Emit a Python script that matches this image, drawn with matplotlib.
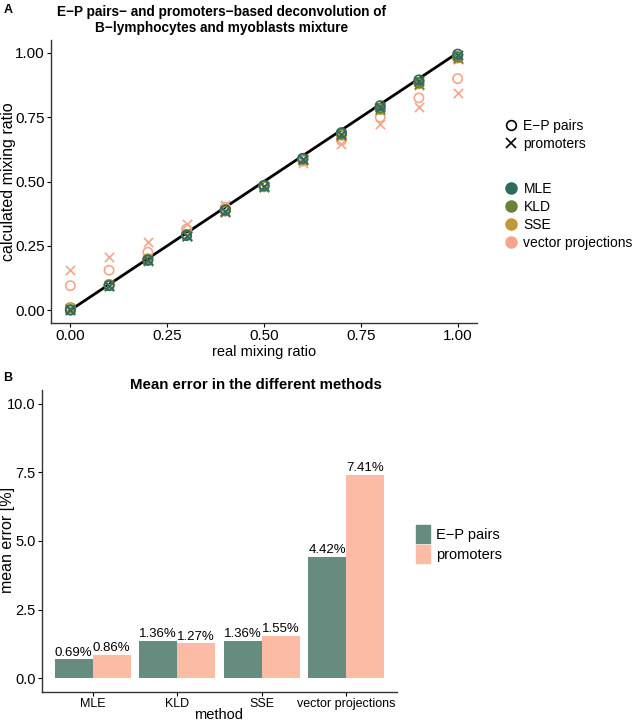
import matplotlib.pyplot as plt
from matplotlib.lines import Line2D
from matplotlib.patches import Patch
import numpy as np

plt.rcParams['font.family'] = ['Liberation Sans', 'DejaVu Sans']

# panel A data
real_ratio = [0.0, 0.1, 0.2, 0.3, 0.4, 0.5, 0.6, 0.7, 0.8, 0.9, 1.0]
methods = ['MLE', 'KLD', 'SSE', 'vector projections']
method_colors = ['#2e6b5e', '#6b8038', '#c4973c', '#f4a68c']

ep_mle = [0.000, 0.095, 0.195, 0.290, 0.390, 0.485, 0.590, 0.690, 0.795, 0.895, 0.995]
ep_kld = [0.002, 0.097, 0.193, 0.292, 0.388, 0.483, 0.588, 0.685, 0.785, 0.885, 0.985]
ep_sse = [0.010, 0.100, 0.200, 0.295, 0.385, 0.480, 0.585, 0.680, 0.780, 0.880, 0.980]
ep_vec = [0.095, 0.155, 0.225, 0.315, 0.400, 0.480, 0.580, 0.660, 0.750, 0.825, 0.900]

pr_mle = [0.000, 0.093, 0.193, 0.290, 0.385, 0.482, 0.588, 0.685, 0.790, 0.890, 0.990]
pr_kld = [0.003, 0.095, 0.190, 0.288, 0.383, 0.480, 0.585, 0.680, 0.780, 0.880, 0.980]
pr_sse = [0.008, 0.098, 0.195, 0.292, 0.380, 0.478, 0.582, 0.678, 0.778, 0.875, 0.978]
pr_vec = [0.155, 0.205, 0.265, 0.335, 0.410, 0.480, 0.570, 0.645, 0.725, 0.790, 0.845]

# panel B data
err_ep = [0.69, 1.36, 1.36, 4.42]
err_pr = [0.86, 1.27, 1.55, 7.41]
bar_colors = ['#668c80', '#fbbba5']

fig = plt.figure(figsize=(6.33, 7.24), dpi=100)

# ---------- panel A ----------
axA = fig.add_axes([51/633, 1-323/724, 426/633, 283/724])
axA.plot(real_ratio, real_ratio, color='black', lw=2, zorder=1)
ep_series = [ep_mle, ep_kld, ep_sse, ep_vec]
pr_series = [pr_mle, pr_kld, pr_sse, pr_vec]
for i in [3, 2, 1, 0]:
    axA.scatter(real_ratio, ep_series[i], marker='o', facecolors='none',
                edgecolors=method_colors[i], s=45, linewidths=1.2, zorder=2)
    axA.scatter(real_ratio, pr_series[i], marker='x', color=method_colors[i],
                s=45, linewidths=1.2, zorder=2)

axA.set_xlim(-0.05, 1.05)
axA.set_ylim(-0.05, 1.05)
ticks = [0, 0.25, 0.5, 0.75, 1.0]
axA.set_xticks(ticks)
axA.set_yticks(ticks)
axA.set_xticklabels(['0.00', '0.25', '0.50', '0.75', '1.00'])
axA.set_yticklabels(['0.00', '0.25', '0.50', '0.75', '1.00'])
axA.set_xlabel('real mixing ratio', fontsize=10.5)
axA.set_ylabel('calculated mixing ratio', fontsize=11.5)
axA.xaxis.set_label_coords(264/633, 1-345/724, transform=fig.transFigure)
axA.yaxis.set_label_coords(16/633, 1-182/724, transform=fig.transFigure)

# legends of panel A
shape_handles = [
    Line2D([], [], marker='o', ls='', mfc='none', mec='black', ms=7, mew=1.2),
    Line2D([], [], marker='x', ls='', color='black', ms=7, mew=1.2),
]
fig.legend(shape_handles, ['E\u2212P pairs', 'promoters'],
           loc='center left', bbox_to_anchor=(497/633, 1-135/724),
           frameon=False, fontsize=10, handletextpad=0.3,
           labelspacing=0.3, handlelength=1.2, borderaxespad=0)
color_handles = [Line2D([], [], marker='o', ls='', color=c, ms=8) for c in method_colors]
fig.legend(color_handles, methods,
           loc='center left', bbox_to_anchor=(497/633, 1-216/724),
           frameon=False, fontsize=10, handletextpad=0.3,
           labelspacing=0.3, handlelength=1.2, borderaxespad=0)

# ---------- panel B ----------
axB = fig.add_axes([42/633, 1-692/724, 355/633, 302/724])
x = np.arange(len(methods))
w = 0.45
b1 = axB.bar(x - w/2, err_ep, width=w, color=bar_colors[0], label='E\u2212P pairs')
b2 = axB.bar(x + w/2, err_pr, width=w, color=bar_colors[1], label='promoters')
for bars, vals in [(b1, err_ep), (b2, err_pr)]:
    for rect, v in zip(bars, vals):
        axB.text(rect.get_x() + rect.get_width()/2, v + 0.03, '%.2f%%' % v,
                 ha='center', va='bottom', fontsize=9.5)
axB.set_xlim(-0.6, 3.6)
axB.set_ylim(-0.5, 10.5)
axB.set_yticks([0, 2.5, 5, 7.5, 10])
axB.set_yticklabels(['0.0', '2.5', '5.0', '7.5', '10.0'])
axB.set_xticks(x)
axB.set_xticklabels(methods)
axB.set_xlabel('method', fontsize=10.5)
axB.set_ylabel('mean error [%]', fontsize=11.5)
axB.xaxis.set_label_coords(219/633, 1-708/724, transform=fig.transFigure)
axB.yaxis.set_label_coords(15/633, 1-540/724, transform=fig.transFigure)

fig.legend([Patch(color=c) for c in bar_colors], ['E\u2212P pairs', 'promoters'],
           loc='center left', bbox_to_anchor=(410/633, 1-544/724),
           frameon=False, fontsize=10.5, handletextpad=0.4, labelspacing=0.1,
           handlelength=1.0, handleheight=1.6, borderaxespad=0)

for ax in [axA, axB]:
    for s in ['top', 'right']:
        ax.spines[s].set_visible(False)
    for s in ['left', 'bottom']:
        ax.spines[s].set_color('#333333')
        ax.spines[s].set_linewidth(1.0)
    ax.tick_params(length=3, width=0.8, colors='black', pad=1.5)
axA.tick_params(labelsize=11)
axB.tick_params(axis='y', labelsize=10.5)
axB.tick_params(axis='x', labelsize=9)

# titles and panel letters
fig.text(222/633, 1-20/724, 'E\u2212P pairs\u2212 and promoters\u2212based deconvolution of\nB\u2212lymphocytes and myoblasts mixture',
         ha='center', va='center', fontsize=9.8, fontweight='bold', linespacing=1.1)
fig.text(256/633, 1-385/724, 'Mean error in the different methods',
         ha='center', va='center', fontsize=10.8, fontweight='bold')
fig.text(8/633, 1-10/724, 'A', ha='center', va='center', fontsize=9, fontweight='bold')
fig.text(8/633, 1-378/724, 'B', ha='center', va='center', fontsize=9, fontweight='bold')

fig.savefig('out.png', dpi=100)
